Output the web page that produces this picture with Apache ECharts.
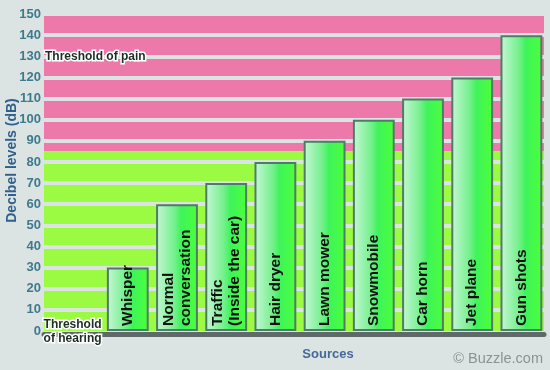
<!DOCTYPE html>
<html>
<head>
<meta charset="utf-8">
<script src="https://cdn.jsdelivr.net/npm/echarts@6/dist/echarts.min.js"></script>
<style>
html,body{margin:0;padding:0;background:#dbe3e3;}
#main{width:550px;height:370px;}
</style>
</head>
<body>
<div id="main"></div>
<script>
// ---- data ----
var categories = ['Threshold\nof hearing', 'Whisper', 'Normal\nconversation', 'Traffic\n(Inside the car)', 'Hair dryer', 'Lawn mower', 'Snowmobile', 'Car horn', 'Jet plane', 'Gun shots'];
var decibels = [0, 30, 60, 70, 80, 90, 100, 110, 120, 140];
var yTicks = [0, 150, 10];           // min, max, interval
var painZone = [85, 150];            // pink band
var safeZone = [0, 85];              // green band
var painThreshold = 130;
var painLabel = 'Threshold of pain';

var FONT = "'Liberation Sans',Arial,sans-serif";

var barGradient = {
  type: 'linear', x: 0, y: 0, x2: 1, y2: 0,
  colorStops: [
    {offset: 0, color: '#c6f7d6'},
    {offset: 0.45, color: '#72f08a'},
    {offset: 0.6, color: '#3ef45a'},
    {offset: 1, color: '#4cff3a'}
  ]
};

var barData = decibels.map(function (v, i) {
  if (i === 0) {
    return {
      value: v,
      itemStyle: {borderWidth: 0, color: 'transparent'},
      label: {
        show: true, position: 'inside', rotate: 0, align: 'center', verticalAlign: 'middle',
        offset: [-6, 1], fontSize: 12, lineHeight: 14, fontWeight: 'bold', fontFamily: FONT,
        color: '#1c2e22', textBorderColor: '#ffffff', textBorderWidth: 3
      }
    };
  }
  return v;
});

var chart = echarts.init(document.getElementById('main'), null, {renderer: 'canvas'});
chart.setOption({
  backgroundColor: '#dbe3e3',
  animation: false,
  title: {
    text: '© Buzzle.com', right: 7, bottom: 4, padding: 0,
    textStyle: {color: '#8b9292', fontSize: 14.5, fontWeight: 'normal', fontFamily: FONT}
  },
  grid: [
    {left: 44, right: 6, top: 14, bottom: 39, outerBoundsMode: 'none', containLabel: false},
    {left: 54, right: 4, top: 14, bottom: 39, outerBoundsMode: 'none', containLabel: false}
  ],
  xAxis: [
    {
      gridIndex: 0, type: 'value', min: 0, max: 1, z: 1.5,
      axisLine: {show: true, onZero: false, lineStyle: {color: '#5e6a6a', width: 5}},
      offset: 3,
      axisTick: {show: false}, axisLabel: {show: false}, splitLine: {show: false},
      name: 'Sources', nameLocation: 'middle', nameGap: 14, nameMoveOverlap: false,
      nameTextStyle: {color: '#45699a', fontSize: 13, fontWeight: 'bold', fontFamily: FONT, padding: [0, 0, 0, 68]}
    },
    {
      gridIndex: 1, type: 'category', data: categories, show: false
    }
  ],
  yAxis: [
    {
      gridIndex: 0, type: 'value', min: yTicks[0], max: yTicks[1], interval: yTicks[2], z: 1,
      axisLine: {show: false}, axisTick: {show: false},
      axisLabel: {color: '#3d7a8c', fontSize: 13, fontWeight: 'bold', fontFamily: FONT, margin: 3, showMinLabel: true, hideOverlap: false},
      splitLine: {show: true, showMinLine: false, lineStyle: {color: '#dbe3e3', width: 4}},
      name: 'Decibel levels (dB)', nameLocation: 'middle', nameGap: 25, nameMoveOverlap: false,
      nameTextStyle: {color: '#30608a', fontSize: 14, fontWeight: 'bold', fontFamily: FONT, padding: [0, 0, 0, 24]}
    },
    {
      gridIndex: 1, type: 'value', min: yTicks[0], max: yTicks[1], interval: yTicks[2], show: false
    }
  ],
  series: [
    {
      type: 'scatter', xAxisIndex: 0, yAxisIndex: 0, data: [], silent: true,
      markArea: {
        silent: true, z: 0.5,
        data: [
          [{yAxis: painZone[0], itemStyle: {color: '#ec79aa'}}, {yAxis: painZone[1]}],
          [{yAxis: safeZone[0], itemStyle: {color: '#9bfa42'}}, {yAxis: safeZone[1]}]
        ]
      }
    },
    {
      type: 'scatter', xAxisIndex: 0, yAxisIndex: 0, data: [], silent: true,
      markArea: {
        silent: true, z: 3,
        itemStyle: {color: 'transparent'},
        label: {
          show: true, position: 'insideLeft', distance: 1,
          fontSize: 12, fontWeight: 'bold', fontFamily: FONT,
          color: '#1c2e22', textBorderColor: '#ffffff', textBorderWidth: 3
        },
        data: [[{yAxis: painThreshold - 5, name: painLabel}, {yAxis: painThreshold + 5}]]
      }
    },
    {
      type: 'bar', xAxisIndex: 1, yAxisIndex: 1, z: 2,
      data: barData,
      barCategoryGap: '15%',
      itemStyle: {color: barGradient, borderColor: '#4e7c66', borderWidth: 2},
      label: {
        show: true, position: 'insideBottom', rotate: 90, align: 'left', verticalAlign: 'middle',
        distance: 5, formatter: '{b}',
        fontSize: 15.5, lineHeight: 17, fontWeight: 'bold', fontFamily: FONT, color: '#111111'
      }
    }
  ]
});
</script>
</body>
</html>
